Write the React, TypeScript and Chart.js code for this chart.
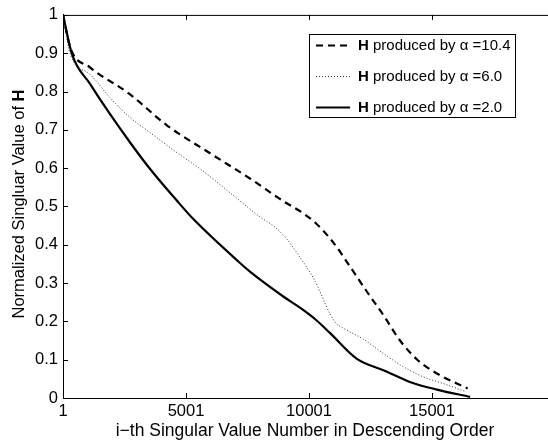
import React, { useEffect, useRef } from "react";
import { Chart, registerables } from "chart.js";

Chart.register(...registerables);

// ---- data ----
const xTickValues = [1, 5001, 10001, 15001];
const yTickValues = [0, 0.1, 0.2, 0.3, 0.4, 0.5, 0.6, 0.7, 0.8, 0.9, 1];

const idxA104 = [1, 300, 1100, 2700, 4200, 6000, 7600, 9000, 9700, 10300, 11000, 11700, 12350, 13050, 13700, 14400, 15200, 16450];
const valA104 = [1, 0.914, 0.863, 0.794, 0.713, 0.638, 0.573, 0.512, 0.485, 0.455, 0.405, 0.34, 0.278, 0.214, 0.15, 0.1, 0.064, 0.025];

const idxA60 = [1, 300, 1100, 1900, 2700, 3600, 4750, 5600, 6900, 8000, 8600, 9100, 9500, 9900, 10250, 10500, 10850, 11100, 11400, 12200, 13050, 13850, 14650, 15450, 16400];
const valA60 = [1, 0.897, 0.845, 0.785, 0.734, 0.69, 0.635, 0.597, 0.53, 0.473, 0.447, 0.415, 0.38, 0.342, 0.305, 0.27, 0.22, 0.195, 0.182, 0.154, 0.115, 0.081, 0.055, 0.038, 0.016];

const idxA20 = [1, 370, 1100, 1900, 2750, 3550, 4700, 5300, 7150, 7600, 9000, 9650, 10300, 10850, 11950, 13050, 14100, 15200, 16550];
const valA20 = [1, 0.897, 0.82, 0.742, 0.665, 0.597, 0.51, 0.467, 0.355, 0.33, 0.263, 0.235, 0.203, 0.17, 0.102, 0.072, 0.042, 0.022, 0.003];

const legendAlphas = ["10.4", "6.0", "2.0"];

const xTitle = "i\u2212th Singular Value Number in Descending Order";
const yTitleMain = "Normalized Singluar Value of ";
const yTitleBold = "H";

const FONT = "'Liberation Sans', Arial, Helvetica, sans-serif";

const pts = (xs: number[], ys: number[]) => xs.map((x, i) => ({ x, y: ys[i] }));

const decorPlugin = {
  id: "decor",
  afterDraw(chart: any) {
    const { ctx, chartArea, scales } = chart;
    const xs = scales.x;
    const ys = scales.y;
    ctx.save();
    // inside ticks
    ctx.strokeStyle = "#000";
    ctx.lineWidth = 1;
    ctx.beginPath();
    xTickValues.forEach((v) => {
      const px = Math.round(xs.getPixelForValue(v)) + 0.5;
      ctx.moveTo(px, chartArea.bottom);
      ctx.lineTo(px, chartArea.bottom - 5);
      ctx.moveTo(px, chartArea.top);
      ctx.lineTo(px, chartArea.top + 5);
    });
    yTickValues.forEach((v) => {
      const py = Math.round(ys.getPixelForValue(v)) + 0.5;
      ctx.moveTo(chartArea.left, py);
      ctx.lineTo(chartArea.left + 5, py);
    });
    ctx.stroke();
    // top border
    ctx.beginPath();
    ctx.moveTo(chartArea.left, chartArea.top + 0.5);
    ctx.lineTo(chartArea.right, chartArea.top + 0.5);
    ctx.stroke();

    // x title
    ctx.fillStyle = "#000";
    ctx.font = `17.5px ${FONT}`;
    ctx.textAlign = "center";
    ctx.textBaseline = "middle";
    ctx.fillText(xTitle, 305, 431);

    // y title with bold H
    ctx.save();
    ctx.translate(19, 204);
    ctx.rotate(-Math.PI / 2);
    ctx.font = `16.5px ${FONT}`;
    const w1 = ctx.measureText(yTitleMain).width;
    ctx.font = `bold 16.5px ${FONT}`;
    const w2 = ctx.measureText(yTitleBold).width;
    const start = -(w1 + w2) / 2;
    ctx.textAlign = "left";
    ctx.font = `16.5px ${FONT}`;
    ctx.fillText(yTitleMain, start, 0);
    ctx.font = `bold 16.5px ${FONT}`;
    ctx.fillText(yTitleBold, start + w1, 0);
    ctx.restore();

    // legend
    const bx = 309.5, by = 34.5, bw = 206, bh = 83;
    ctx.fillStyle = "#fff";
    ctx.fillRect(bx, by, bw, bh);
    ctx.strokeStyle = "#000";
    ctx.lineWidth = 1;
    ctx.strokeRect(bx, by, bw, bh);
    const rows = [45, 76, 107];
    chart.data.datasets.forEach((ds: any, i: number) => {
      const y = rows[i];
      ctx.save();
      ctx.strokeStyle = ds.borderColor;
      ctx.lineWidth = ds.borderWidth;
      ctx.setLineDash(ds.borderDash || []);
      ctx.beginPath();
      ctx.moveTo(316, y + 0.5);
      ctx.lineTo(350, y + 0.5);
      ctx.stroke();
      ctx.restore();
      ctx.fillStyle = "#000";
      ctx.textAlign = "left";
      ctx.textBaseline = "middle";
      ctx.font = `bold 15px ${FONT}`;
      ctx.fillText("H", 358, y + 1);
      const hw = ctx.measureText("H").width;
      ctx.font = `15px ${FONT}`;
      ctx.fillText(` produced by \u03b1 =${legendAlphas[i]}`, 358 + hw, y + 1);
    });
    ctx.restore();
  },
};

export default function App() {
  const ref = useRef<HTMLCanvasElement | null>(null);
  useEffect(() => {
    document.body.style.margin = "0";
    const canvas = ref.current!;
    const chart = new Chart(canvas, {
      type: "line",
      data: {
        datasets: [
          {
            label: "H produced by \u03b1 =10.4",
            data: pts(idxA104, valA104),
            borderColor: "#000",
            borderWidth: 2.2,
            borderDash: [7, 5],
            pointRadius: 0,
            cubicInterpolationMode: "monotone",
          },
          {
            label: "H produced by \u03b1 =6.0",
            data: pts(idxA60, valA60),
            borderColor: "#333",
            borderWidth: 1,
            borderDash: [1, 2],
            pointRadius: 0,
            cubicInterpolationMode: "monotone",
          },
          {
            label: "H produced by \u03b1 =2.0",
            data: pts(idxA20, valA20),
            borderColor: "#000",
            borderWidth: 2.2,
            pointRadius: 0,
            cubicInterpolationMode: "monotone",
          },
        ],
      },
      options: {
        animation: false,
        responsive: false,
        devicePixelRatio: 1,
        layout: { padding: { left: 0, top: 10, right: 1, bottom: 0 } },
        plugins: { legend: { display: false }, tooltip: { enabled: false } },
        scales: {
          x: {
            type: "linear",
            min: 1,
            max: 20001,
            afterBuildTicks: (s: any) => {
              s.ticks = xTickValues.map((v) => ({ value: v }));
            },
            afterFit: (s: any) => {
              s.height = 46;
            },
            grid: { drawOnChartArea: false, drawTicks: false },
            border: { display: true, color: "#000", width: 1 },
            ticks: {
              padding: 4,
              color: "#000",
              maxRotation: 0,
              autoSkip: false,
              font: { family: FONT, size: 16.5 },
              callback: (v: any) => String(v),
            },
          },
          y: {
            min: 0,
            max: 1,
            afterBuildTicks: (s: any) => {
              s.ticks = yTickValues.map((v) => ({ value: v }));
            },
            afterFit: (s: any) => {
              s.width = 63;
            },
            grid: { drawOnChartArea: false, drawTicks: false },
            border: { display: true, color: "#000", width: 1 },
            ticks: {
              padding: 5,
              color: "#000",
              autoSkip: false,
              font: { family: FONT, size: 16.5 },
              callback: (v: any) => String(Math.round(v * 10) / 10),
            },
          },
        },
      },
      plugins: [decorPlugin],
    } as any);
    return () => chart.destroy();
  }, []);
  return (
    <div style={{ position: "absolute", left: 0, top: 0, width: 548, height: 444, overflow: "hidden", background: "#fff" }}>
      <canvas ref={ref} width={556} height={444} style={{ display: "block", width: 556, height: 444 }} />
    </div>
  );
}
